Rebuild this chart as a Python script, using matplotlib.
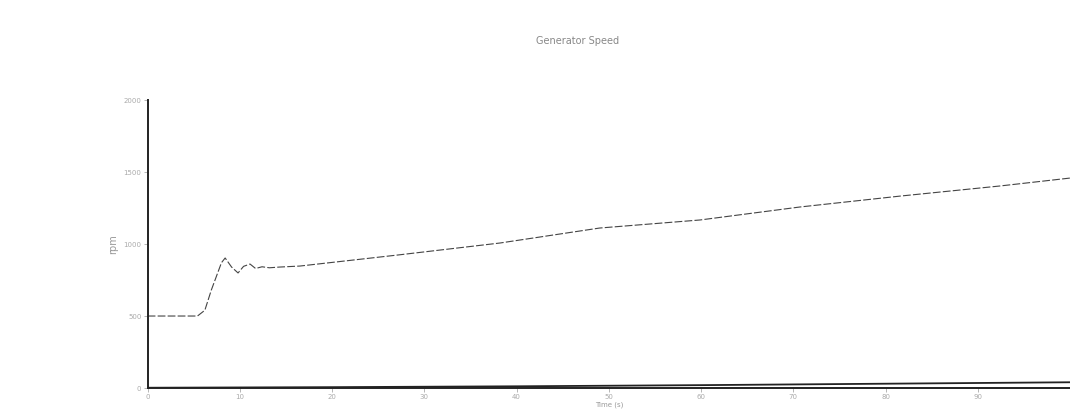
import matplotlib
matplotlib.use("Agg")
import matplotlib.pyplot as plt

# time (s) and generator speed (rpm)
time_s = [0, 5.4, 6.2, 6.9, 8.0, 8.4, 9.1, 9.8, 10.4, 11.1, 11.7, 12.4, 13.2,
          14.3, 16.5, 27.3, 38.2, 49.0, 59.9, 70.7, 81.6, 92.4, 100]
speed = [500, 500, 540, 680, 870, 903, 840, 799, 845, 861, 830, 842, 835,
         840, 847, 925, 1007, 1111, 1167, 1257, 1333, 1403, 1458]

# second trace hugging the x axis
low_t = [0, 20, 40, 60, 80, 100]
low_v = [2, 6, 12, 20, 30, 40]

x_ticks = [0, 10, 20, 30, 40, 50, 60, 70, 80, 90]
y_ticks = [0, 500, 1000, 1500, 2000]

fig = plt.figure(figsize=(10.7, 4.15), dpi=100)
ax = fig.add_axes([0.138, 0.065, 0.862, 0.694])

ax.plot(time_s, speed, color="#444444", linewidth=0.8, dashes=(7, 2))
ax.plot(low_t, low_v, color="#222222", linewidth=1.3)

ax.set_xlim(0, 100)
ax.set_ylim(0, 2000)
ax.set_xticks(x_ticks)
ax.set_yticks(y_ticks)
ax.tick_params(labelsize=5, colors="#aaaaaa", length=3, width=0.6, pad=1.5)
for s in ("top", "right"):
    ax.spines[s].set_visible(False)
for s in ("left", "bottom"):
    ax.spines[s].set_linewidth(1.4)
    ax.spines[s].set_color("#222222")

ax.set_xlabel("Time (s)", fontsize=5, color="#999999", labelpad=1)
ax.set_ylabel("rpm", fontsize=7, color="#999999", labelpad=4)
fig.text(0.54, 0.895, "Generator Speed", ha="center", fontsize=7, color="#888888")

fig.savefig("out.png", dpi=100)
